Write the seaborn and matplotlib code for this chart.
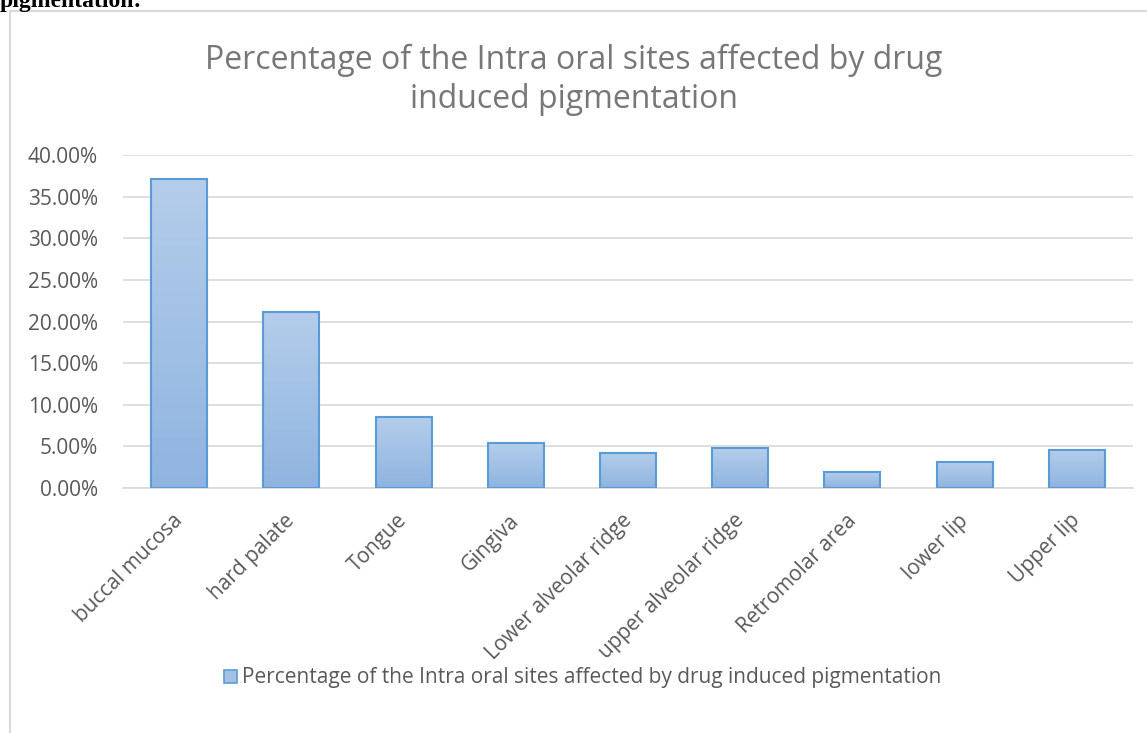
import matplotlib
matplotlib.use("Agg")
import matplotlib.pyplot as plt
import matplotlib.patches as mpatches
import matplotlib.transforms as mtransforms
from matplotlib.colors import LinearSegmentedColormap
from matplotlib.ticker import FuncFormatter, MultipleLocator
import numpy as np
import pandas as pd
import seaborn as sns

categories = ["buccal mucosa", "hard palate", "Tongue", "Gingiva", "Lower alveolar ridge",
              "upper alveolar ridge", "Retromolar area", "lower lip", "Upper lip"]
values = [0.371, 0.212, 0.085, 0.054, 0.042, 0.048, 0.019, 0.031, 0.046]
series_name = "Percentage of the Intra oral sites affected by drug induced pigmentation"
title_text = "Percentage of the Intra oral sites affected by drug\ninduced pigmentation"

df = pd.DataFrame({"site": categories, "pct": values})

sns.set_theme(style="white")
plt.rcParams["font.family"] = ["Open Sans", "DejaVu Sans"]

fig = plt.figure(figsize=(11.47, 7.33), dpi=100)
ax = fig.add_axes([123/1147, 1-488/733, (1133-123)/1147, (488-155)/733])

sns.barplot(data=df, x="site", y="pct", ax=ax, color="#A3C1E6", width=0.5,
            edgecolor="#5B9BD5", linewidth=1.5, zorder=3)

# gradient fill
cmap = LinearSegmentedColormap.from_list("g", ["#8FB4E0", "#B4CDEA"])
grad = np.linspace(0, 1, 256).reshape(-1, 1)
for p in ax.patches:
    x0, y0 = p.get_x(), p.get_y()
    w, h = p.get_width(), p.get_height()
    im = ax.imshow(grad, cmap=cmap, origin="lower", aspect="auto",
                   extent=[x0, x0 + w, y0, y0 + h], zorder=3.5)
    im.set_clip_path(p)
    p.set_facecolor("none")
    p.set_zorder(4)

ax.set_xlim(-0.5, len(categories) - 0.5)
ax.set_ylim(0, 0.40)
ax.yaxis.set_major_locator(MultipleLocator(0.05))
ax.yaxis.set_major_formatter(FuncFormatter(lambda v, _: f"{v*100:.2f}%"))
ax.grid(axis="y", color="#D9D9D9", linewidth=1.2, zorder=0)
for s in ["top", "right", "left"]:
    ax.spines[s].set_visible(False)
ax.spines["bottom"].set_color("#D9D9D9")
ax.spines["bottom"].set_linewidth(1.2)
ax.set_xlabel("")
ax.set_ylabel("")
ax.tick_params(axis="y", length=0, labelsize=15, labelcolor="#595959", pad=18)
ax.tick_params(axis="x", length=0, labelsize=15, labelcolor="#595959", pad=16)
shift = mtransforms.ScaledTranslation(-7/100, 0, fig.dpi_scale_trans)
for lab in ax.get_xticklabels():
    lab.set_rotation(45)
    lab.set_ha("right")
    lab.set_rotation_mode("anchor")
    lab.set_transform(lab.get_transform() + shift)

fig.text(0.5, 1 - 80/733, title_text, ha="center", va="center", fontsize=23,
         color="#777777", linespacing=1.23)

handle = mpatches.Patch(facecolor="#A3C1E6", edgecolor="#5B9BD5", linewidth=1.2,
                        label=series_name)
fig.legend(handles=[handle], loc="center", bbox_to_anchor=(583/1147, 1 - 678/733),
           frameon=False, fontsize=15, labelcolor="#595959", handlelength=0.6,
           handleheight=0.6, handletextpad=0.25)

# chart area border and cut-off caption above
fig.patches.append(mpatches.Rectangle((10/1147, -0.05), 1.2, 1 - 11/733 + 0.05,
                                      transform=fig.transFigure, fill=False,
                                      edgecolor="#D9D9D9", linewidth=1.5))
fig.text(0, 1 - 2/733, "pigmentation:", ha="left", va="center", fontsize=17,
         fontweight="bold", family=["Liberation Serif", "DejaVu Serif"], color="black")

fig.savefig("out.png", dpi=100)
